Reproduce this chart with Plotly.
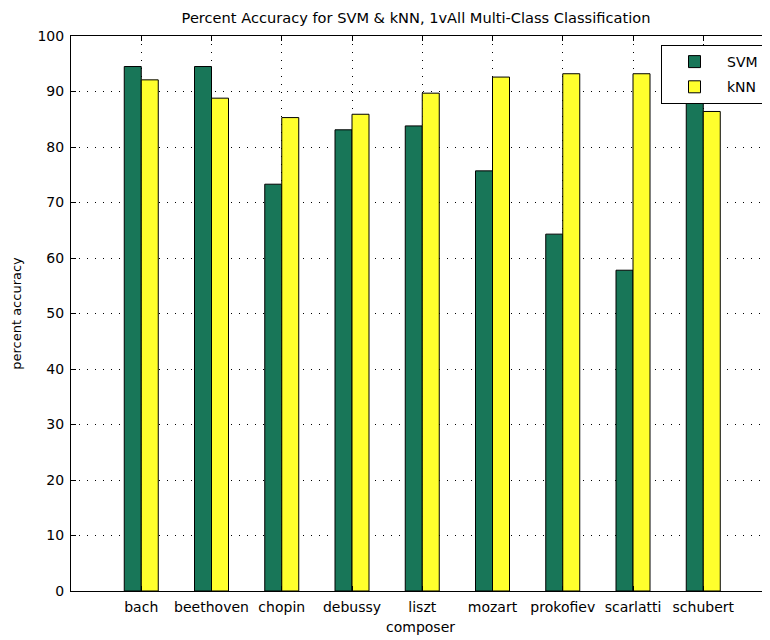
import plotly.graph_objects as go

composers = ["bach", "beethoven", "chopin", "debussy", "liszt",
             "mozart", "prokofiev", "scarlatti", "schubert"]
svm_acc = [94.5, 94.5, 73.3, 83.1, 83.8, 75.7, 64.3, 57.8, 91.5]
knn_acc = [92.1, 88.8, 85.3, 85.9, 89.7, 92.6, 93.2, 93.2, 86.4]
y_ticks = [0, 10, 20, 30, 40, 50, 60, 70, 80, 90, 100]

FONT = "DejaVu Sans, Liberation Sans, sans-serif"
GREEN = "rgb(24,118,88)"
YELLOW = "rgb(255,255,45)"

# page body has an 8px margin, so the figure is sized to the visible area
W, H = 762, 632
L, T, B = 63, 28, 49
plot_h = H - T - B

fig = go.Figure()
fig.add_trace(go.Bar(name="SVM", x=composers, y=svm_acc, legendgroup="a",
                     marker=dict(color=GREEN, line=dict(color="black", width=1))))
fig.add_trace(go.Bar(name="kNN", x=composers, y=knn_acc, legendgroup="b",
                     marker=dict(color=YELLOW, line=dict(color="black", width=1))))

fig.update_layout(
    width=W, height=H,
    margin=dict(l=L, r=0, t=T, b=B),
    paper_bgcolor="white", plot_bgcolor="white",
    barmode="group", bargap=0.516, bargroupgap=0,
    font=dict(family=FONT, size=14, color="black"),
    title=dict(text="Percent Accuracy for SVM & kNN, 1vAll Multi-Class Classification",
               x=408 / W, xanchor="center", y=1 - 10 / H, yanchor="middle",
               yref="container", font=dict(size=14.6, family=FONT, color="black")),
    legend=dict(x=(653 - L) / (W - L), xanchor="left", y=1 - 9 / plot_h, yanchor="top",
                bgcolor="white", bordercolor="black", borderwidth=1,
                font=dict(size=14, family=FONT), itemwidth=55,
                tracegroupgap=4),
    showlegend=True,
)

fig.update_xaxes(
    range=[-1, 8.95], showline=True, linecolor="black", linewidth=1,
    mirror="ticks", ticks="inside", ticklen=5, tickcolor="black",
    showgrid=True, gridcolor="black", gridwidth=1, griddash="1px,7px",
    tickfont=dict(size=14, family=FONT), ticklabelstandoff=3, automargin=False,
    title=dict(text="composer", font=dict(size=14, family=FONT), standoff=8),
)
fig.update_yaxes(
    range=[0, 100], tickvals=y_ticks, showline=True, linecolor="black", linewidth=1,
    mirror="ticks", ticks="inside", ticklen=5, tickcolor="black",
    showgrid=True, gridcolor="black", gridwidth=1, griddash="1px,7px",
    zeroline=False, automargin=False,
    tickfont=dict(size=14, family=FONT), ticklabelstandoff=3,
    title=dict(text="percent accuracy", font=dict(size=13, family=FONT), standoff=12),
)

fig.write_html("out.html")
